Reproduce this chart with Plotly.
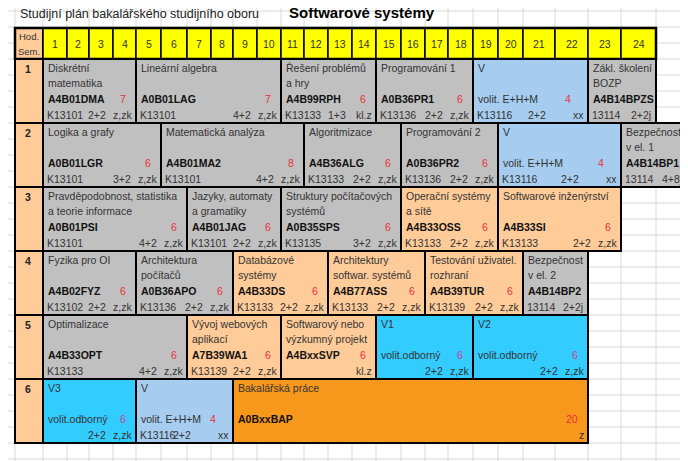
import plotly.graph_objects as go

# ---- data ----
semesters = [1, 2, 3, 4, 5, 6]
hour_labels = [str(i) for i in range(1, 25)]

sem   = [1,1,1,1,1,1, 2,2,2,2,2,2, 3,3,3,3,3, 4,4,4,4,4,4, 5,5,5,5,5, 6,6,6]
c0    = [1,5,11,15,19,23, 1,6,12,16,20,24, 1,7,11,16,20, 1,5,9,13,17,21, 1,7,11,15,19, 1,5,9]
c1    = [4,10,14,18,22,24, 5,11,15,19,23,25, 6,10,15,19,23, 4,8,12,16,20,22, 6,10,14,18,22, 4,8,22]
name1 = ["Diskrétní","Lineární algebra","Řešení problémů","Programování 1","V","Zákl. školení",
         "Logika a grafy","Matematická analýza","Algoritmizace","Programování 2","V","Bezpečnost",
         "Pravděpodobnost, statistika","Jazyky, automaty","Struktury počítačových","Operační systémy","Softwarové inženýrství",
         "Fyzika pro OI","Architektura","Databázové","Architektury","Testování uživatel.","Bezpečnost",
         "Optimalizace","Vývoj webových","Softwarový nebo","V1","V2",
         "V3","V","Bakalářská práce"]
name2 = ["matematika","","a hry","","","BOZP",
         "","","","","","v el. 1",
         "a teorie informace","a gramatiky","systémů","a sítě","",
         "","počítačů","systémy","softwar. systémů","rozhraní","v el. 2",
         "","aplikací","výzkumný projekt","","",
         "","",""]
code  = ["A4B01DMA","A0B01LAG","A4B99RPH","A0B36PR1","volit. E+H+M","A4B14BPZS",
         "A0B01LGR","A4B01MA2","A4B36ALG","A0B36PR2","volit. E+H+M","A4B14BP1",
         "A0B01PSI","A4B01JAG","A0B35SPS","A4B33OSS","A4B33SI",
         "A4B02FYZ","A0B36APO","A4B33DS","A4B77ASS","A4B39TUR","A4B14BP2",
         "A4B33OPT","A7B39WA1","A4BxxSVP","volit.odborný","volit.odborný",
         "volit.odborný","volit. E+H+M","A0BxxBAP"]
credits = ["7","7","6","6","4","",
           "6","8","6","6","4","",
           "6","6","6","6","6",
           "6","6","6","6","6","",
           "6","6","6","6","6",
           "6","4","20"]
dept  = ["K13101","K13101","K13133","K13136","K13116","13114",
         "K13101","K13101","K13133","K13136","K13116","13114",
         "K13101","K13101","K13135","K13133","K13133",
         "K13102","K13136","K13133","K13133","K13139","13114",
         "K13133","K13139","","","",
         "","K13116",""]
hours = ["2+2","4+2","1+3","2+2","2+2","2+2j",
         "3+2","4+2","2+2","2+2","2+2","4+8j",
         "4+2","2+2","3+2","2+2","2+2",
         "2+2","2+2","2+2","2+2","2+2","2+2j",
         "4+2","2+2","","2+2","2+2",
         "2+2","2+2",""]
exam  = ["z,zk","z,zk","kl.z","z,zk","xx","",
         "z,zk","z,zk","z,zk","z,zk","xx","",
         "z,zk","z,zk","z,zk","z,zk","z,zk",
         "z,zk","z,zk","z,zk","z,zk","z,zk","",
         "z,zk","z,zk","kl.z","z,zk","z,zk",
         "z,zk","xx","z"]
kind  = ["g","g","g","g","v","g",
         "g","g","g","g","v","g",
         "g","g","g","p","p",
         "g","g","p","p","p","g",
         "g","p","p","c","c",
         "c","v","o"]

# ---- layout constants ----
EDGES = [43,67,89,113,136,161,187,211,233,257,281,304,328,352,376,401,425,448,473,498,523,555,588,621,656,687]
ROW_TOP = 59
ROW_H = 64
HEAD_TOP = 28
FILL = {"g": "#c0c0c0", "p": "#ffcc99", "v": "#a6cdf0", "c": "#33ccff", "o": "#f7981d"}
CRED_COL = {"c": "#cc3d8f"}
FONT = "Arial, Liberation Sans, sans-serif"
TXT = "#333333"
FS = 10.5
OFF = 8  # page body margin compensation

shapes, ann = [], []

def line(x0, y0, x1, y1, color, w):
    shapes.append(dict(type="line", x0=x0, y0=y0, x1=x1, y1=y1,
                       line=dict(color=color, width=w), layer="below"))

def text(x, y, s, anchor="left", size=FS, color=TXT, bold=False):
    if not s:
        return
    ann.append(dict(x=x, y=y, text=f"<b>{s}</b>" if bold else s, showarrow=False,
                    xanchor=anchor, yanchor="middle", xref="x", yref="y",
                    font=dict(family=FONT, size=size, color=color)))

# spreadsheet gridlines
for e in [15] + EDGES[:25]:
    line(e, 0, e, 470, "#d8d8d8", 1)
y = 11
while y < 470:
    line(0, y, 700, y, "#d8d8d8", 1)
    y += 16

def rect(x0, y0, x1, y1, fill, w=2):
    shapes.append(dict(type="rect", x0=x0, y0=y0, x1=x1, y1=y1, fillcolor=fill,
                       line=dict(color="black", width=w), layer="above"))

# title
text(18, 14, "Studijní plán bakalářského studijního oboru", size=12.5, color="#222")
text(287, 12, "Softwarové systémy", size=15, color="black", bold=True)

# header
rect(15, HEAD_TOP, 43, ROW_TOP, "#ffcc99")
text(29, 36, "Hod.", "center", 9.5)
text(29, 51, "Sem.", "center", 9.5)
for i, lab in enumerate(hour_labels):
    rect(EDGES[i], HEAD_TOP, EDGES[i+1], ROW_TOP, "#ffff00", 1.5)
    text((EDGES[i] + EDGES[i+1]) / 2, 44, lab, "center")
shapes.append(dict(type="rect", x0=15, y0=HEAD_TOP, x1=656, y1=ROW_TOP,
                   line=dict(color="black", width=2.5), layer="above"))

# semester labels
for s in semesters:
    t = ROW_TOP + (s - 1) * ROW_H
    rect(15, t, 43, t + ROW_H, "#ffcc99")
    text(28, t + 10, str(s), "center", FS, "#222", True)

# courses
for i in range(len(sem)):
    t = ROW_TOP + (sem[i] - 1) * ROW_H
    x0, x1 = EDGES[c0[i] - 1], EDGES[c1[i]]
    rect(x0, t, x1, t + ROW_H, FILL[kind[i]])
    text(x0 + 3, t + 9, name1[i])
    text(x0 + 3, t + 24, name2[i])
    is_code = not code[i].startswith("volit")
    text(x0 + 3, t + 40, code[i], bold=is_code, color="#111" if is_code else TXT)
    cr_off = 15 if kind[i] == "v" else 8
    text(x1 - cr_off, t + 40, credits[i], "right", FS, CRED_COL.get(kind[i], "#e8303a"))
    text(x0 + 2, t + 56, dept[i])
    if exam[i]:
        text(x1 - 2, t + 56, exam[i], "right")
        hoff = 40 if kind[i] == "v" else 28
        text(x1 - hoff, t + 56, hours[i], "right")
    else:
        text(x1 - 3, t + 56, hours[i], "right")

fig = go.Figure()
fig.update_layout(
    width=688, height=461, margin=dict(l=0, r=0, t=0, b=0),
    plot_bgcolor="white", paper_bgcolor="white",
    xaxis=dict(range=[OFF, 688 + OFF], visible=False, fixedrange=True),
    yaxis=dict(range=[461 + OFF, OFF], visible=False, fixedrange=True),
    shapes=shapes, annotations=ann, showlegend=False,
)
fig.write_html("out.html", config={"displayModeBar": False})
